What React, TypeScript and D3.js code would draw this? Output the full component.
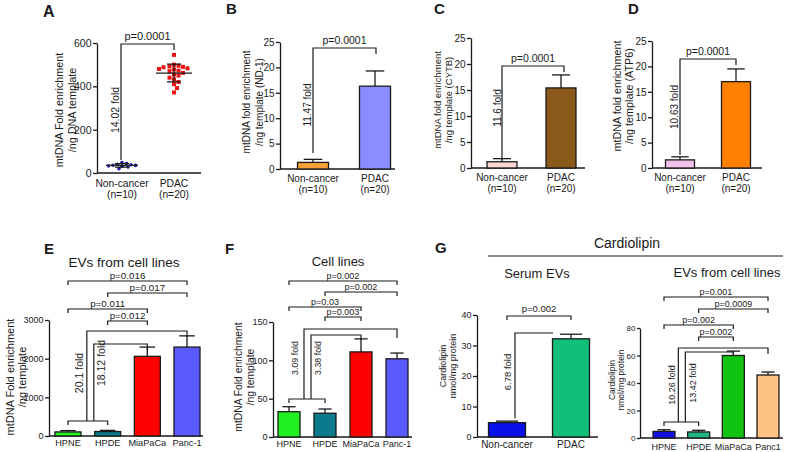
import { useEffect, useRef } from "react";
import * as d3 from "d3";

const FONT = "'Liberation Sans', Arial, Helvetica, sans-serif";
const INK = "#1a1a1a";

// A: total mtDNA, individual samples
const twoGroups = ["Non-cancer", "PDAC"];
const twoGroupsN = ["(n=10)", "(n=20)"];
const aNonCancer = [48, 44, 40, 38, 36, 35, 33, 31, 28, 20];
const aPdac = [545, 500, 495, 492, 490, 488, 483, 480, 478, 472, 470, 462, 455, 450, 440, 432, 420, 410, 392, 372];
const aTicks = [0, 200, 400, 600];

// B, C, D: mtDNA genes
const nd1Mean = [1.3, 16.3];
const nd1Err = [0.6, 3.0];
const cytbMean = [1.2, 15.4];
const cytbErr = [0.6, 2.5];
const atp6Mean = [1.6, 17.0];
const atp6Err = [0.6, 2.5];
const geneTicks = [0, 5, 10, 15, 20, 25];

// E, F: cell lines
const cellLines = ["HPNE", "HPDE", "MiaPaCa", "Panc-1"];
const cellLineColors = ["#22f022", "#0b7a8c", "#ff0000", "#5a5aff"];
const evMean = [105, 115, 2060, 2300];
const evErr = [35, 30, 240, 290];
const evTicks = [0, 1000, 2000, 3000];
const evPairs: [number, number, string][] = [[0, 3, "p=0.016"], [1, 3, "p=0.017"], [0, 2, "p=0.011"], [1, 2, "p=0.012"]];
const evFolds = ["20.1 fold", "18.12 fold"];
const cellMean = [33, 31, 111, 102];
const cellErr = [6.5, 5.5, 17, 7.5];
const cellTicks = [0, 50, 100, 150];
const cellPairs: [number, number, string][] = [[0, 3, "p=0.002"], [1, 3, "p=0.002"], [0, 2, "p=0.03"], [1, 2, "p=0.003"]];
const cellFolds = ["3.09 fold", "3.38 fold"];

// G: cardiolipin
const serumGroups = ["Non-cancer", "PDAC"];
const serumMean = [4.7, 32.2];
const serumErr = [0.5, 1.5];
const serumTicks = [0, 10, 20, 30, 40];
const cardioLines = ["HPNE", "HPDE", "MiaPaCa", "Panc1"];
const cardioColors = ["#1010e0", "#1fb384", "#12c412", "#ffc285"];
const cardioMean = [4.8, 4.4, 60, 45.8];
const cardioErr = [1.2, 1.2, 3.2, 2.2];
const cardioTicks = [0, 20, 40, 60, 80];
const cardioPairs: [number, number, string][] = [[0, 3, "p=0.001"], [1, 3, "p=0.0009"], [0, 2, "p=0.002"], [1, 2, "p=0.002"]];
const cardioFolds = ["10.26 fold", "13.42 fold"];

type Sel = d3.Selection<SVGSVGElement, unknown, null, undefined>;

function txt(svg: Sel, x: number, y: number, s: string, fs: number, anchor = "middle", weight = "normal") {
  return svg.append("text").attr("x", x).attr("y", y).attr("text-anchor", anchor)
    .attr("font-family", FONT).attr("font-size", fs).attr("font-weight", weight).attr("fill", INK).text(s);
}

function vtxt(svg: Sel, cx: number, cy: number, s: string, fs: number) {
  return svg.append("text").attr("transform", `translate(${cx},${cy}) rotate(-90)`)
    .attr("text-anchor", "middle").attr("dy", "0.35em")
    .attr("font-family", FONT).attr("font-size", fs).attr("fill", INK).text(s);
}

function path(svg: Sel, d: string) {
  svg.append("path").attr("d", d).attr("fill", "none").attr("stroke", INK).attr("stroke-width", 1.2);
}

function frame(svg: Sel, o: { cats: string[]; centers: [number, number]; axisX: [number, number]; yPix: [number, number]; max: number; ticks: number[]; tickFs: number; tickLen?: number }) {
  const x = d3.scalePoint<string>().domain(o.cats).range(o.centers);
  const y = d3.scaleLinear().domain([0, o.max]).range(o.yPix);
  const ax = svg.append("g").attr("transform", `translate(${o.axisX[0]},0)`)
    .call(d3.axisLeft(y).tickValues(o.ticks).tickFormat(d3.format("d")).tickSize(o.tickLen ?? 4).tickSizeOuter(0).tickPadding(1.5));
  ax.attr("font-family", FONT).attr("font-size", o.tickFs);
  ax.select(".domain").attr("stroke", INK).attr("stroke-width", 1.3);
  ax.selectAll(".tick line").attr("stroke", INK).attr("stroke-width", 1.3);
  ax.selectAll(".tick text").attr("fill", INK);
  svg.append("line").attr("x1", o.axisX[0]).attr("x2", o.axisX[1]).attr("y1", y(0)).attr("y2", y(0))
    .attr("stroke", INK).attr("stroke-width", 1.3);
  return { x, y };
}

function bars(svg: Sel, x: d3.ScalePoint<string>, y: d3.ScaleLinear<number, number>, cats: string[], means: number[], errs: number[], colors: string[], w: number) {
  cats.forEach((c, i) => {
    const cx = x(c)!;
    svg.append("line").attr("x1", cx).attr("x2", cx).attr("y1", y(means[i])).attr("y2", y(means[i] + errs[i]))
      .attr("stroke", INK).attr("stroke-width", 1.3);
    svg.append("line").attr("x1", cx - w * 0.3).attr("x2", cx + w * 0.3).attr("y1", y(means[i] + errs[i])).attr("y2", y(means[i] + errs[i]))
      .attr("stroke", INK).attr("stroke-width", 1.3);
    svg.append("rect").attr("x", cx - w / 2).attr("y", y(means[i])).attr("width", w).attr("height", y(0) - y(means[i]))
      .attr("fill", colors[i]).attr("stroke", INK).attr("stroke-width", 1.3);
  });
}

function catLabels(svg: Sel, x: d3.ScalePoint<string>, cats: string[], y1: number, fs: number, second?: string[], y2?: number) {
  cats.forEach((c, i) => {
    txt(svg, x(c)!, y1, c, fs);
    if (second && y2) txt(svg, x(c)!, y2, second[i], fs);
  });
}

function sigBrackets(svg: Sel, x: d3.ScalePoint<string>, cats: string[], pairs: [number, number, string][], levels: number[], fs: number) {
  pairs.forEach(([a, b, p], i) => {
    const xa = x(cats[a])!, xb = x(cats[b])!, ly = levels[i];
    path(svg, `M${xa},${ly + 4}V${ly}H${xb}V${ly + 4}`);
    txt(svg, (xa + xb) / 2, ly - 2.5, p, fs);
  });
}

// combined control bracket with two arms to the cancer lines
function foldBrackets(svg: Sel, x: d3.ScalePoint<string>, cats: string[], o: { base: number; offs: [number, number]; tops: [number, number]; legs: [number, number]; texts: string[]; textX: [number, number]; textY: [number, number]; fs: number }) {
  const x0 = x(cats[0])!, x1 = x(cats[1])!, mid = (x0 + x1) / 2;
  path(svg, `M${x0},${o.base + 4}V${o.base}H${x1}V${o.base + 4}`);
  const targets = [x(cats[3])!, x(cats[2])!];
  [0, 1].forEach((k) => {
    const vx = mid + o.offs[k];
    path(svg, `M${vx},${o.base}V${o.tops[k]}H${targets[k]}V${o.legs[k]}`);
    vtxt(svg, vx + o.textX[k], o.textY[k], o.texts[k], o.fs);
  });
}

function swarm(vals: number[], y: d3.ScaleLinear<number, number>, cx: number, dist: number) {
  const placed: [number, number][] = [];
  [...vals].sort((a, b) => b - a).forEach((v) => {
    const py = y(v);
    for (let k = 0; k < 60; k++) {
      const off = k === 0 ? 0 : (k % 2 ? 1 : -1) * Math.ceil(k / 2) * 1.5;
      const px = cx + off;
      if (placed.every((p) => Math.hypot(p[0] - px, p[1] - py) >= dist)) { placed.push([px, py]); break; }
    }
  });
  return placed;
}

function drawA(svg: Sel) {
  const { x, y } = frame(svg, { cats: twoGroups, centers: [122, 174], axisX: [97, 201], yPix: [173, 43], max: 600, ticks: aTicks, tickFs: 10.5 });
  const groups = [aNonCancer, aPdac];
  const cols = ["#1a1aa8", "#ee1111"];
  groups.forEach((vals, i) => {
    const cx = x(twoGroups[i])!;
    const m = d3.mean(vals)!, sd = d3.deviation(vals)!;
    const pts = swarm(vals, y, cx, i === 0 ? 3.6 : 4.6);
    pts.forEach(([px, py]) => {
      if (i === 0) svg.append("circle").attr("cx", px).attr("cy", py).attr("r", 1.8).attr("fill", cols[i]);
      else svg.append("rect").attr("x", px - 2).attr("y", py - 2).attr("width", 4).attr("height", 4).attr("fill", cols[i]);
    });
    const hw = i === 0 ? 16 : 18;
    svg.append("line").attr("x1", cx - hw).attr("x2", cx + hw).attr("y1", y(m)).attr("y2", y(m)).attr("stroke", INK).attr("stroke-width", 1.2);
    path(svg, `M${cx},${y(m - sd)}V${y(m + sd)}`);
    path(svg, `M${cx - 7},${y(m - sd)}H${cx + 7}M${cx - 7},${y(m + sd)}H${cx + 7}`);
  });
  catLabels(svg, x, twoGroups, 187, 10.3, twoGroupsN, 197.5);
  vtxt(svg, 59, 110, "mtDNA Fold enrichment", 10.8);
  vtxt(svg, 72, 110, "/ng DNA template", 10.8);
  txt(svg, 43, 17, "A", 16, "start", "bold");
  path(svg, `M121,160V44H174V50`);
  txt(svg, 147.5, 40, "p=0.0001", 11);
  vtxt(svg, 115, 110, "14.02 fold", 10.5);
}

function drawGene(svg: Sel, o: { means: number[]; errs: number[]; colors: string[]; centers: [number, number]; axisX: [number, number]; yPix: [number, number]; letter: string; letterX: number; title: string; titleX: [number, number]; titleY: number; titleFs: number; catY: [number, number]; fold: string; foldX: number; foldY: number; br: [number, number, number, number]; w: number }) {
  const { x, y } = frame(svg, { cats: twoGroups, centers: o.centers, axisX: o.axisX, yPix: o.yPix, max: 25, ticks: geneTicks, tickFs: 10 });
  bars(svg, x, y, twoGroups, o.means, o.errs, o.colors, o.w);
  catLabels(svg, x, twoGroups, o.catY[0], 10, twoGroupsN, o.catY[1]);
  vtxt(svg, o.titleX[0], o.titleY, "mtDNA fold enrichment", o.titleFs);
  vtxt(svg, o.titleX[1], o.titleY, o.title, o.titleFs);
  txt(svg, o.letterX, 14, o.letter, 15, "start", "bold");
  const [l, r, top, legL] = o.br;
  path(svg, `M${l},${legL}V${top}H${r}V${top + 6}`);
  txt(svg, (l + r) / 2, top - 4, "p=0.0001", 10.5);
  vtxt(svg, o.foldX, o.foldY, o.fold, 10);
}

function drawE(svg: Sel) {
  const { x, y } = frame(svg, { cats: cellLines, centers: [68, 187], axisX: [49, 203], yPix: [436, 320], max: 3000, ticks: evTicks, tickFs: 9 });
  bars(svg, x, y, cellLines, evMean, evErr, cellLineColors, 26);
  catLabels(svg, x, cellLines, 446, 9.2);
  vtxt(svg, 10, 377, "mtDNA Fold enrichment", 11);
  vtxt(svg, 22, 377, "/ng template", 11);
  txt(svg, 124, 267, "EVs from cell lines", 13.5);
  txt(svg, 44, 254, "E", 15, "start", "bold");
  sigBrackets(svg, x, cellLines, evPairs, [281, 293, 309, 321], 9.8);
  foldBrackets(svg, x, cellLines, { base: 421, offs: [-1, 6], tops: [331, 344], legs: [337, 350], texts: evFolds, textX: [-8, 7], textY: [373, 363], fs: 10.5 });
}

function drawF(svg: Sel) {
  const { x, y } = frame(svg, { cats: cellLines, centers: [289, 397], axisX: [273, 412], yPix: [437, 322], max: 150, ticks: cellTicks, tickFs: 9 });
  bars(svg, x, y, cellLines, cellMean, cellErr, cellLineColors, 22);
  catLabels(svg, x, cellLines, 447, 9);
  vtxt(svg, 238, 377, "mtDNA Fold enrichment", 10.3);
  vtxt(svg, 250, 377, "/ng template", 10.3);
  txt(svg, 338, 266, "Cell lines", 13);
  txt(svg, 225, 254, "F", 15, "start", "bold");
  sigBrackets(svg, x, cellLines, cellPairs, [281, 292, 307, 317], 9);
  foldBrackets(svg, x, cellLines, { base: 399, offs: [-3, 4], tops: [329, 335], legs: [338, 340], texts: cellFolds, textX: [-9, 7], textY: [358, 358], fs: 8.8 });
}

function drawG(svg: Sel) {
  txt(svg, 435, 253, "G", 15, "start", "bold");
  txt(svg, 627, 248, "Cardiolipin", 14);
  svg.append("line").attr("x1", 488).attr("x2", 783).attr("y1", 256).attr("y2", 256).attr("stroke", INK).attr("stroke-width", 1.2);
  txt(svg, 537, 278, "Serum EVs", 13);
  txt(svg, 727, 277, "EVs from cell lines", 13);

  const s = frame(svg, { cats: serumGroups, centers: [507, 571], axisX: [477, 598], yPix: [437, 315], max: 40, ticks: serumTicks, tickFs: 9 });
  bars(svg, s.x, s.y, serumGroups, serumMean, serumErr, ["#0a10e8", "#12bf78"], 37);
  catLabels(svg, s.x, serumGroups, 448, 10);
  vtxt(svg, 443, 366, "Cardiolipin", 9);
  vtxt(svg, 453, 366, "nmol/mg protein", 9);
  const sl = s.x(serumGroups[0])!, sr = s.x(serumGroups[1])!;
  path(svg, `M${sl},${320}V316H${sr}V320`);
  txt(svg, (sl + sr) / 2, 312, "p=0.002", 9.5);
  const vx = sl + 8;
  path(svg, `M${vx},${s.y(serumMean[0] + serumErr[0]) - 3}V333H${sr - 18}`);
  vtxt(svg, sl + 1, 372, "6.78 fold", 9.5);

  const c = frame(svg, { cats: cardioLines, centers: [664, 768], axisX: [640, 783], yPix: [438, 328], max: 80, ticks: cardioTicks, tickFs: 8, tickLen: 3 });
  bars(svg, c.x, c.y, cardioLines, cardioMean, cardioErr, cardioColors, 22);
  catLabels(svg, c.x, cardioLines, 450, 9);
  vtxt(svg, 612, 380, "Cardiolipin", 8.5);
  vtxt(svg, 621, 380, "nmol/mg protein", 8.5);
  sigBrackets(svg, c.x, cardioLines, cardioPairs, [297, 309, 325, 337], 9);
  foldBrackets(svg, c.x, cardioLines, { base: 422, offs: [-3, 4], tops: [348, 352], legs: [354, 356], texts: cardioFolds, textX: [-6, 8], textY: [385, 383], fs: 9 });
}

export default function App() {
  const ref = useRef<SVGSVGElement>(null);

  useEffect(() => {
    const svg = d3.select(ref.current!) as Sel;
    svg.selectAll("*").remove();
    drawA(svg);
    drawGene(svg, { means: nd1Mean, errs: nd1Err, colors: ["#f7a035", "#8a8cff"], centers: [313, 375], axisX: [280, 395], yPix: [169, 42], letter: "B", letterX: 226, title: "/ng template (ND-1)", titleX: [246, 259], titleY: 102, titleFs: 10, catY: [182, 192.5], fold: "11.47 fold", foldX: 307, foldY: 105, br: [313, 376, 48, 153], w: 31 });
    drawGene(svg, { means: cytbMean, errs: cytbErr, colors: ["#fcd5d5", "#8b5a1b"], centers: [502, 561], axisX: [471, 585], yPix: [168, 38], letter: "C", letterX: 434, title: "/ng template (CYTB)", titleX: [438, 449], titleY: 100, titleFs: 9.5, catY: [181, 191.5], fold: "11.6 fold", foldX: 497, foldY: 108, br: [502, 564, 66, 160], w: 30 });
    drawGene(svg, { means: atp6Mean, errs: atp6Err, colors: ["#f5c0ec", "#ff8000"], centers: [680, 736], axisX: [652, 762], yPix: [168, 41], letter: "D", letterX: 628, title: "/ng template (ATP6)", titleX: [617, 629], titleY: 96, titleFs: 10.8, catY: [181, 191.5], fold: "10.63 fold", foldX: 674, foldY: 107, br: [680, 736, 59, 155], w: 29 });
    drawE(svg);
    drawF(svg);
    drawG(svg);
  }, []);

  return (
    <svg ref={ref} width={793} height={452} viewBox="0 0 793 452"
      style={{ position: "absolute", left: 0, top: 0, background: "#fff" }} />
  );
}
